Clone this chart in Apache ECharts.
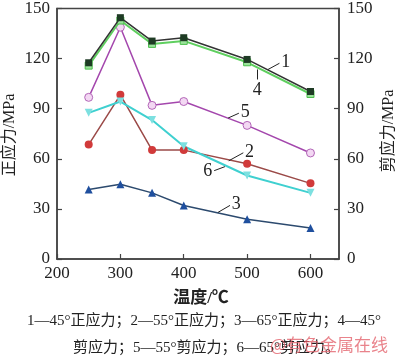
<!DOCTYPE html>
<html><head><meta charset="utf-8">
<script src="https://cdn.jsdelivr.net/npm/echarts@6/dist/echarts.min.js"></script>
<style>html,body{margin:0;padding:0;background:#fff}#c{width:400px;height:360px}</style>
</head><body><div id="c"></div>
<script>
const temps = [250, 300, 350, 400, 500, 600];
const s1 = [117.5, 144.5, 130.5, 132.5, 119.5, 100.3]; // 45° 正应力
const s2 = [68.5, 98.3, 65.2, 65.2, 57, 45.3];        // 55° 正应力
const s3 = [41.6, 44.8, 39.6, 32, 23.8, 18.6];        // 65° 正应力
const s4 = [115.8, 142.8, 128.8, 130.6, 117.8, 98.8]; // 45° 剪应力
const s5 = [96.8, 138.8, 92, 94.3, 80, 63.5];         // 55° 剪应力
const s6 = [87.5, 94.3, 83.2, 67.5, 50, 39.6];        // 65° 剪应力
const xTicks = [200, 300, 400, 500, 600];
const yTicks = [0, 30, 60, 90, 120, 150];
const labelNames = ['1', '2', '3', '4', '5', '6'];
// leader lines in data space: [x1,y1,x2,y2]
const leaders = [
  [533, 113.5, 551, 117.2],
  [471, 58.8, 494, 63.6],
  [454, 27.9, 473, 32.1],
  [516, 113.5, 516, 107.5],
  [470, 84.4, 487, 87.3],
  [465, 55.3, 448, 52.9]
];

const serif = '"Liberation Serif", "Noto Sans CJK SC", serif';
const pair = (arr) => temps.map((t, i) => [t, arr[i]]);

function leader(i, pos) {
  const L = leaders[i];
  return {
    silent: true, symbol: ['none', 'none'],
    lineStyle: { color: '#222', width: 1, type: 'solid' },
    label: { show: true, position: pos || 'end', formatter: labelNames[i], fontFamily: serif, fontSize: 18, color: '#222', distance: 2 },
    data: [[{ coord: [L[0], L[1]] }, { coord: [L[2], L[3]] }]]
  };
}

const axisCommon = {
  axisLine: { show: true, lineStyle: { color: '#444', width: 1.5 } },
  axisTick: { show: true, inside: true, length: 5, lineStyle: { color: '#444', width: 1.2 } },
  splitLine: { show: false },
  axisLabel: { fontFamily: serif, fontSize: 17, color: '#222' }
};

const chart = echarts.init(document.getElementById('c'), null, { renderer: 'canvas' });
chart.setOption({
  backgroundColor: '#fff',
  animation: false,
  grid: { left: 57, right: 61, top: 6, bottom: 101, show: true, borderColor: '#444', borderWidth: 1.5 },
  xAxis: Object.assign({}, axisCommon, {
    type: 'value', min: 200, max: 645, interval: 100,
    axisLabel: Object.assign({}, axisCommon.axisLabel, { margin: 6, showMaxLabel: false,
      formatter: v => xTicks.includes(v) ? String(v) : '' })
  }),
  yAxis: [
    Object.assign({}, axisCommon, { type: 'value', min: 0, max: 150, interval: 30, position: 'left',
      axisLabel: Object.assign({}, axisCommon.axisLabel, { margin: 7, formatter: v => yTicks.includes(v) ? String(v) : '' }) }),
    Object.assign({}, axisCommon, { type: 'value', min: 0, max: 150, interval: 30, position: 'right',
      axisLabel: Object.assign({}, axisCommon.axisLabel, { margin: 8, formatter: v => yTicks.includes(v) ? String(v) : '' }) })
  ],
  series: [
    { name: '1', type: 'line', data: pair(s1), yAxisIndex: 0, z: 5,
      lineStyle: { color: '#333', width: 1.5 }, itemStyle: { color: '#1e3b24' },
      symbol: 'rect', symbolSize: 7, markLine: leader(0) },
    { name: '4', type: 'line', data: pair(s4), yAxisIndex: 1, z: 4,
      lineStyle: { color: '#5fcf5f', width: 2 }, itemStyle: { color: '#9be39b', borderColor: '#4cbf4c', borderWidth: 1 },
      symbol: 'rect', symbolSize: 7, markLine: leader(3) },
    { name: '5', type: 'line', data: pair(s5), yAxisIndex: 1, z: 3,
      lineStyle: { color: '#a447ad', width: 1.5 }, itemStyle: { color: '#f3d8f3', borderColor: '#b366b8', borderWidth: 1 },
      symbol: 'circle', symbolSize: 8, markLine: leader(4) },
    { name: '2', type: 'line', data: pair(s2), yAxisIndex: 0, z: 3,
      lineStyle: { color: '#9b4a48', width: 1.5 }, itemStyle: { color: '#d13a3a' },
      symbol: 'circle', symbolSize: 8, markLine: leader(1) },
    { name: '6', type: 'line', data: pair(s6), yAxisIndex: 1, z: 3,
      lineStyle: { color: '#3fd0d0', width: 2 }, itemStyle: { color: '#7de0e0' },
      symbol: 'triangle', symbolRotate: 180, symbolSize: 8, markLine: leader(5, 'end') },
    { name: '3', type: 'line', data: pair(s3), yAxisIndex: 0, z: 3,
      lineStyle: { color: '#2c4a6e', width: 1.5 }, itemStyle: { color: '#1f4f9e' },
      symbol: 'triangle', symbolSize: 8, markLine: leader(2) }
  ],
  graphic: [
    { type: 'text', x: 10, y: 135, rotation: Math.PI / 2, style: { text: '正应力/MPa', font: '16px ' + serif, fill: '#222', textAlign: 'center', textVerticalAlign: 'middle' } },
    { type: 'text', x: 389, y: 131, rotation: Math.PI / 2, style: { text: '剪应力/MPa', font: '16px ' + serif, fill: '#222', textAlign: 'center', textVerticalAlign: 'middle' } },
    { type: 'text', x: 201, y: 299, style: { text: '温度/℃', font: 'bold 17px ' + serif, fill: '#222', textAlign: 'center', textVerticalAlign: 'middle' } },
    { type: 'text', x: 204, y: 321, style: { text: '1—45°正应力；2—55°正应力；3—65°正应力；4—45°', font: '15px ' + serif, fill: '#222', textAlign: 'center', textVerticalAlign: 'middle' } },
    { type: 'text', x: 73, y: 348, style: { text: '剪应力；5—55°剪应力；6—65°剪应力。', font: '15px ' + serif, fill: '#222', textAlign: 'left', textVerticalAlign: 'middle' } },
    { type: 'text', x: 388, y: 345, z: 100, style: { text: '@有色金属在线', font: '17px "Noto Sans CJK SC", sans-serif', fill: 'rgba(225,90,100,0.75)', textAlign: 'right', textVerticalAlign: 'middle' } }
  ]
});
</script></body></html>
